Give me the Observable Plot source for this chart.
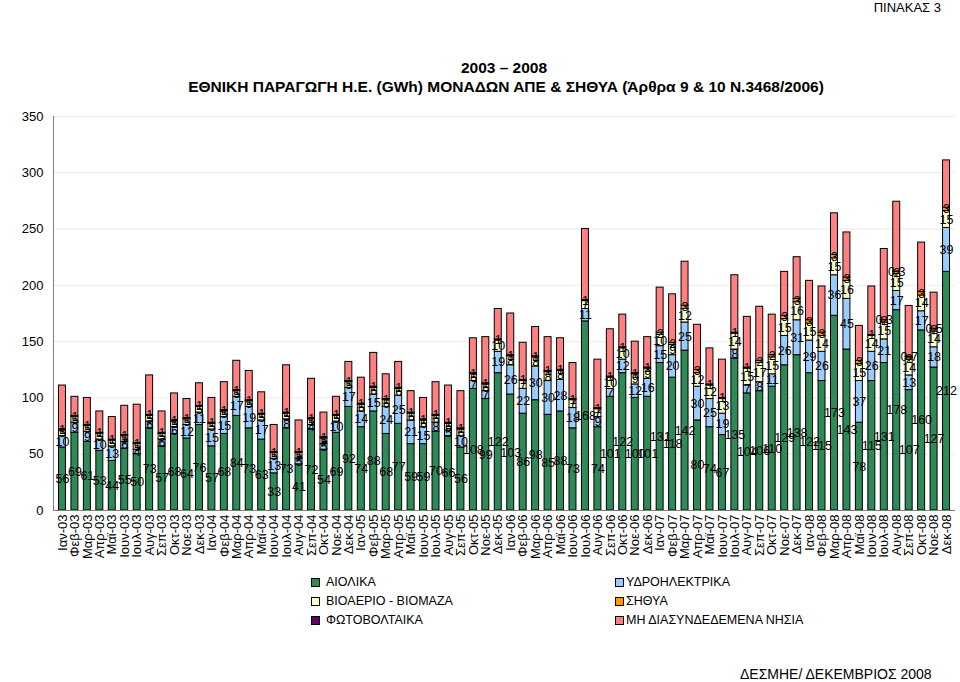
<!DOCTYPE html>
<html><head><meta charset="utf-8">
<script src="https://cdn.jsdelivr.net/npm/d3@7"></script>
<script src="https://cdn.jsdelivr.net/npm/@observablehq/plot@0.6"></script>
<style>
body{margin:0;width:960px;height:682px;position:relative;background:#fff;font-family:"Liberation Sans",Arial,sans-serif;overflow:hidden;color:#000}
.abs{position:absolute;white-space:nowrap}
.sq{position:absolute;width:7px;height:7px;border:1px solid #000}
.lg{position:absolute;font-size:12.5px;line-height:14px;white-space:nowrap}
#chart{position:absolute;left:0;top:100px}
</style></head><body>
<div class="abs" style="right:19px;top:0px;font-size:13px">ΠΙΝΑΚΑΣ 3</div>
<div class="abs" style="left:0;width:1008px;text-align:center;top:59px;font-weight:bold;font-size:15.5px">2003 – 2008</div>
<div class="abs" style="left:0;width:1012px;text-align:center;top:78px;font-weight:bold;font-size:15.5px">ΕΘΝΙΚΗ ΠΑΡΑΓΩΓΗ Η.Ε. (GWh) ΜΟΝΑΔΩΝ ΑΠΕ &amp; ΣΗΘΥΑ (Άρθρα 9 &amp; 10 Ν.3468/2006)</div>
<div class="abs" style="left:-8px;top:293px;font-size:13px;transform:rotate(-90deg)">GWh</div>
<div id="chart"></div>
<div id="legend"></div>
<div class="abs" style="left:740px;top:666px;font-size:14px">ΔΕΣΜΗΕ/ ΔΕΚΕΜΒΡΙΟΣ 2008</div>
<script>
const monthNames = ["Ιαν","Φεβ","Μαρ","Απρ","Μαϊ","Ιουν","Ιουλ","Αυγ","Σεπ","Οκτ","Νοε","Δεκ"];
const yearNames = ["03","04","05","06","07","08"];
const categories = yearNames.flatMap(y => monthNames.map(m => m + "-" + y));
const series = ["ΑΙΟΛΙΚΑ","ΥΔΡΟΗΛΕΚΤΡΙΚΑ","ΒΙΟΑΕΡΙΟ - ΒΙΟΜΑΖΑ","ΣΗΘΥΑ","ΦΩΤΟΒΟΛΤΑΙΚΑ","ΜΗ ΔΙΑΣΥΝΔΕΔΕΜΕΝΑ ΝΗΣΙΑ"];
const colors = ["#2e8b57","#99ccff","#ffffcc","#ff9900","#660066","#ff8080"];
const yTicks = [0,50,100,150,200,250,300,350];

const wind = [56,69,61,53,44,55,50,73,57,68,64,76,
  57,68,84,73,63,33,73,41,72,54,69,92,
  74,88,68,77,59,59,70,66,56,108,99,122,
  103,86,98,85,88,73,168,74,101,122,100,101,
  131,118,142,80,74,67,135,104,106,110,129,138,
  122,115,173,143,78,115,131,178,107,160,127,212];
const hydro = [10,9,9,10,13,6,4,6,6,6,12,11,
  15,15,17,19,17,13,8,5,4,5,10,17,
  14,15,24,25,21,15,8,5,10,7,7,19,
  26,22,30,30,28,18,11,9,7,12,12,16,
  15,20,25,30,25,19,8,7,8,11,26,31,
  29,26,36,45,37,26,21,17,13,17,18,39];
const bio = [5,5,5,5,5,5,5,5,5,5,5,5,
  5,5,5,5,5,5,5,5,5,5,5,5,
  6,6,6,6,6,6,6,6,6,6,6,10,
  8,7,8,8,8,7,7,7,10,10,9,9,
  10,9,12,12,12,13,14,15,17,15,15,16,
  15,14,15,16,15,14,15,15,14,14,14,15];
const chp = [1,1,1,1,1,1,1,1,1,1,1,1,
  1,1,1,1,1,1,1,1,1,1,1,1,
  1,1,1,1,1,1,1,1,1,1,1,1,
  1,1,1,1,1,1,1,1,1,1,1,1,
  2,2,3,3,1,1,1,1,2,2,3,3,
  3,3,3,3,3,1,2,2,2,3,2,3];
const pv = [0,0,0,0,0,0,0,0,0,0,0,0,
  0,0,0,0,0,0,0,0,0,0,0,0,
  0,0,0,0,0,0,0,0,0,0,0,0,
  0,0,0,0,0,0,0,0,0,0,0,0,
  0,0,0,0,0,0,0,0,0,0,0,0,
  0,0,0,0,0,0,0.3,0.3,0.7,0,0.5,0];
const islands = [39,17,24,19,20,26,34,35,19,24,17,20,
  22,25,26,26,19,24,42,28,35,22,16,17,
  23,30,22,23,19,19,29,33,33,31,41,27,
  37,33,26,30,28,32,63,43,42,29,28,27,
  40,43,39,40,32,34,51,45,48,36,39,37,
  35,41,37,40,31,43,63,62,45,44,32,42];

const values = [wind, hydro, bio, chp, pv, islands];
const rows = [];
categories.forEach((c, i) => series.forEach((s, j) => rows.push({month: c, series: s, value: values[j][i], labeled: j < 5})));
const fmt = v => (Number.isInteger(v) ? String(v) : String(v).replace(".", ","));

const chart = Plot.plot({
  width: 960, height: 475,
  marginTop: 16, marginBottom: 65, marginLeft: 53, marginRight: 5,
  style: {fontFamily: '"Liberation Sans", Arial, sans-serif', fontSize: "13px", color: "#000", background: "#fff", overflow: "visible"},
  x: {domain: categories, padding: 0.44, label: null, tickRotate: -90, tickSize: 0, tickPadding: 4},
  y: {domain: [0, 350], ticks: yTicks, label: null, tickSize: 0, tickPadding: 10},
  color: {domain: series, range: colors},
  marks: [
    Plot.gridY(yTicks.slice(1), {stroke: "#ebebeb", strokeOpacity: 1}),
    Plot.barY(rows, {x: "month", y: "value", fill: "series", z: "series", stroke: "#000", strokeWidth: 1}),
    Plot.text(rows, Plot.stackY({x: "month", y: "value", z: "series", text: d => (d.labeled && d.value > 0 ? fmt(d.value) : null), fill: "#000", fontSize: 12.5})),
    Plot.frame({anchor: "left", stroke: "#808080"}),
    Plot.ruleY([0], {stroke: "#808080"})
  ]
});
document.getElementById("chart").appendChild(chart);

const legendPos = [[311, 576], [615, 576], [311, 595], [615, 595], [311, 614], [615, 614]];
const lg = document.getElementById("legend");
series.forEach((s, j) => {
  const [lx, ly] = legendPos[j];
  const sq = document.createElement("div");
  sq.className = "sq";
  sq.style.left = lx + "px"; sq.style.top = (ly + 2) + "px"; sq.style.background = colors[j];
  lg.appendChild(sq);
  const t = document.createElement("div");
  t.className = "lg";
  t.style.left = (lx + (j % 2 === 0 ? 15 : 11)) + "px"; t.style.top = (ly - 1) + "px";
  t.textContent = s;
  lg.appendChild(t);
});
</script>
</body></html>
